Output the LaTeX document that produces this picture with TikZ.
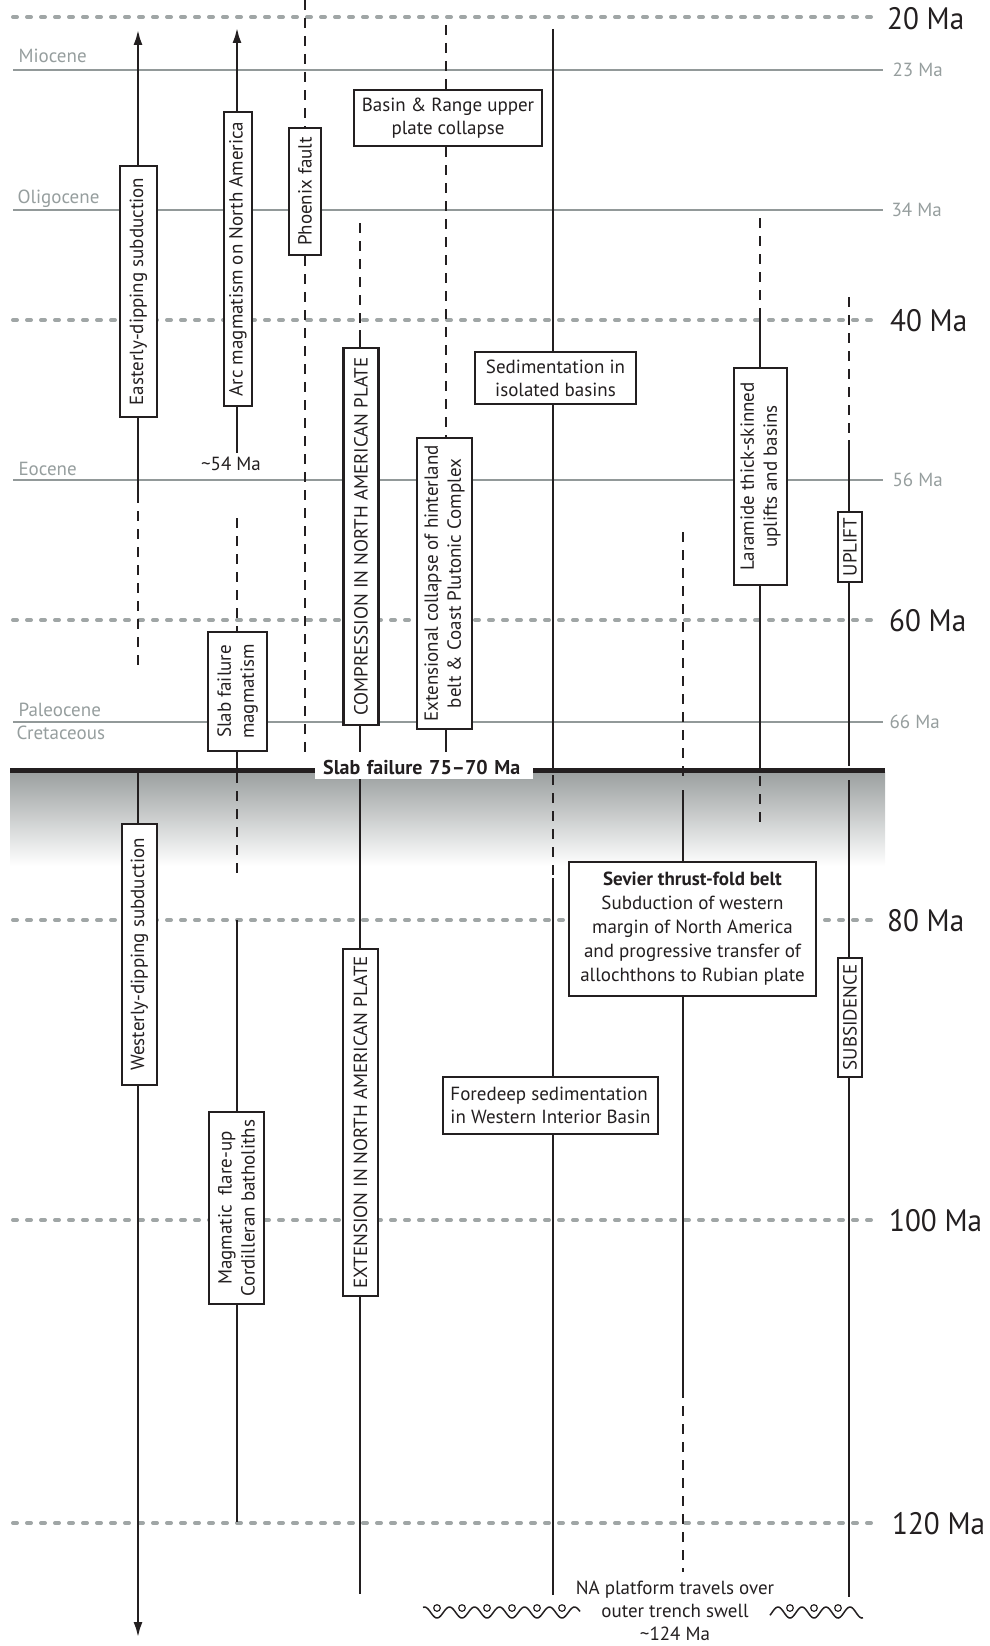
\documentclass[tikz,border=0pt]{standalone}
\usepackage{fontspec}
\setmainfont{PT Sans}
\newfontfamily\agefont[FakeStretch=0.94]{PT Sans}
\usetikzlibrary{arrows.meta}
\definecolor{ink}{RGB}{35,31,32}
\definecolor{epochc}{RGB}{146,153,153}
\definecolor{dotc}{RGB}{160,166,166}
\definecolor{lblc}{RGB}{150,158,158}
\definecolor{shadec}{RGB}{155,160,160}
\begin{document}
\begin{tikzpicture}[x=1pt,y=-1pt,
 every node/.style={font=\fontsize{19}{23}\selectfont, text=ink},
 solidl/.style={draw=ink, line width=2.9pt},
 dashl/.style={draw=ink, line width=2.4pt, dash pattern=on 10pt off 8pt},
 dotl/.style={draw=dotc, line width=4pt, dash pattern=on 4pt off 10pt, line cap=round},
 epochl/.style={draw=epochc, line width=2.8pt},
 arr/.style={-{Latex[length=16pt,width=9pt]}},
 vbox/.style 2 args={draw=ink, line width=2.3pt, fill=white, rotate=90, inner sep=0pt, align=center, minimum width=#1, minimum height=#2},
 hbox/.style 2 args={draw=ink, line width=2.3pt, fill=white, inner sep=0pt, align=center, minimum width=#1, minimum height=#2},
 epochname/.style={anchor=base west, text=lblc},
 epochage/.style={anchor=west, text=lblc},
 age/.style={anchor=west, inner xsep=0pt, font=\agefont\fontsize{31}{36}\selectfont},
]
\path[use as bounding box] (0,0) rectangle (989,1646);

% ---- age grid (dotted) ----
\foreach \yy in {17,320,620,920,1220,1523} \draw[dotl] (13,\yy) -- (880,\yy);
\node[age] (m20) at (887,19) {20 Ma};
\node[age] (m40) at (890,321) {40 Ma};
\node[age] (m60) at (889,621) {60 Ma};
\node[age] (m80) at (887,921) {80 Ma};
\node[age] (m100) at (889,1221) {100 Ma};
\node[age] (m120) at (892,1524) {120 Ma};

% ---- epoch boundaries ----
\foreach \yy in {70,210,480,722} \draw[epochl] (13,\yy) -- (883,\yy);
\node[epochage] (e23) at (889,70) {23 Ma};
\node[epochage] (e34) at (888,210) {34 Ma};
\node[epochage] (e56) at (889,480) {56 Ma};
\node[epochage] (e66) at (886,722) {66 Ma};
\node[epochname] (mio) at (15,63) {Miocene};
\node[epochname] (oli) at (14,203) {Oligocene};
\node[epochname] (eoc) at (15,475) {Eocene};
\node[epochname] (pal) at (15,716.5) {Paleocene};
\node[epochname] (cre) at (13,739) {Cretaceous};

% ---- slab failure ----
\shade[top color=shadec, bottom color=white] (10,772) rectangle (885,866);
\draw[ink, line width=5pt] (10,770) -- (885,770);
\node[fill=white, inner xsep=8pt, inner ysep=0pt, minimum height=23pt, text width=202pt, align=left, anchor=west, font=\bfseries\fontsize{20}{23}\selectfont] (slab) at (315,767.5) {Slab failure 75–70 Ma};

% ---- boxes ----
\node[vbox={251pt}{37pt}] (east) at (138.5,291.5) {Easterly-dipping subduction};
\node[vbox={294pt}{28pt}] (arc) at (238,259) {Arc magmatism on North America};
\node[vbox={127pt}{32pt}] (phx) at (305,191.5) {Phoenix fault};
\node[vbox={377pt}{35pt}] (comp) at (361,536.5) {COMPRESSION IN NORTH AMERICAN PLATE};
\node[hbox={188pt}{56pt}] (basin) at (448,118) {Basin \& Range upper\\plate collapse};
\node[vbox={291pt}{55pt}] (extc) at (444.5,583.5) {Extensional collapse of hinterland\\belt \& Coast Plutonic Complex};
\node[hbox={161pt}{52pt}] (sed) at (555.5,378) {Sedimentation in\\isolated basins};
\node[vbox={217pt}{53pt}] (lara) at (760.5,476.5) {Laramide thick-skinned\\uplifts and basins};
\node[vbox={70pt}{24pt}] (upl) at (850,547) {UPLIFT};
\node[vbox={119pt}{59pt}] (slabm) at (237.5,691.5) {Slab failure\\magmatism};
\node[vbox={261pt}{35pt}] (west) at (139.5,954.5) {Westerly-dipping subduction};
\node[vbox={192pt}{55pt}] (flare) at (236.5,1208) {Magmatic\ \ flare-up\\Cordilleran batholiths};
\node[vbox={347pt}{35pt}] (ext) at (360.5,1122.5) {EXTENSION IN NORTH AMERICAN PLATE};
\node[hbox={247pt}{134pt}, font=\fontsize{19}{24}\selectfont] (sev) at (692.5,929) {\textbf{Sevier thrust-fold belt}\\Subduction of western\\margin of North America\\and progressive transfer of\\allochthons to Rubian plate};
\node[hbox={215pt}{57pt}, align=left] (fore) at (550.5,1105.5) {Foredeep sedimentation\\in Western Interior Basin};
\node[vbox={119pt}{24pt}] (subs) at (850,1017.5) {SUBSIDENCE};
\node (n54) at (231,464) {\textasciitilde54 Ma};

% ---- column 1 ----
\coordinate (c1t) at (138,29);
\coordinate (c1a) at (138,493);
\coordinate (c1b) at (138,667);
\coordinate (c1c) at (138,772);
\coordinate (c1d) at (138,1638);
\draw[solidl,arr] (east.east -| c1t) -- (c1t);
\draw[solidl] (east.west -| c1a) -- (c1a);
\draw[dashl] (c1a) -- (c1b);
\draw[solidl] (c1c) -- (west.east -| c1c);
\draw[solidl,arr] (west.west -| c1d) -- (c1d);

% ---- column 2 ----
\coordinate (c2t) at (237,27);
\coordinate (c2a) at (237,453);
\coordinate (c2b) at (237,518);
\coordinate (c2c) at (237,770);
\coordinate (c2d) at (237,773);
\coordinate (c2e) at (237,874);
\coordinate (c2f) at (237,920);
\coordinate (c2g) at (237,1522);
\draw[solidl,arr] (arc.east -| c2t) -- (c2t);
\draw[solidl] (arc.west -| c2a) -- (c2a);
\draw[dashl] (c2b) -- (slabm.east -| c2b);
\draw[solidl] (slabm.west -| c2c) -- (c2c);
\draw[dashl] (c2d) -- (c2e);
\draw[solidl] (c2f) -- (flare.east -| c2f);
\draw[solidl] (flare.west -| c2g) -- (c2g);

% ---- column 3 ----
\coordinate (c3t) at (305,0);
\coordinate (c3b) at (305,757);
\draw[dashl] (c3t) -- (phx.east);
\draw[dashl] (phx.west) -- (c3b);

% ---- column 4 ----
\coordinate (c4a) at (360,223);
\coordinate (c4b) at (360,330);
\coordinate (c4c) at (360,752);
\coordinate (c4d) at (360,779);
\coordinate (c4e) at (360,1594);
\draw[dashl] (c4a) -- (c4b);
\draw[solidl] (c4b) -- (comp.east -| c4b);
\draw[solidl] (comp.west -| c4c) -- (c4c);
\draw[solidl] (c4d) -- (ext.east -| c4d);
\draw[solidl] (ext.west -| c4e) -- (c4e);

% ---- column 5 ----
\coordinate (c5a) at (446,25);
\coordinate (c5b) at (446,752);
\draw[dashl] (c5a) -- (basin.north -| c5a);
\draw[dashl] (basin.south -| c5a) -- (extc.east -| c5a);
\draw[solidl] (extc.west -| c5b) -- (c5b);

% ---- column 6 ----
\coordinate (c6a) at (553,29);
\coordinate (c6b) at (553,768);
\coordinate (c6c) at (553,775);
\coordinate (c6d) at (553,878);
\coordinate (c6e) at (553,1595);
\draw[solidl] (c6a) -- (sed.north -| c6a);
\draw[solidl] (sed.south -| c6b) -- (c6b);
\draw[dashl] (c6c) -- (c6d);
\draw[solidl] (c6d) -- (fore.north -| c6d);
\draw[solidl] (fore.south -| c6e) -- (c6e);

% ---- column 7 ----
\coordinate (c7a) at (683,532);
\coordinate (c7b) at (683,780);
\coordinate (c7c) at (683,790);
\coordinate (c7d) at (683,1388);
\coordinate (c7e) at (683,1572);
\draw[dashl] (c7a) -- (c7b);
\draw[solidl] (c7c) -- (sev.north -| c7c);
\draw[solidl] (sev.south -| c7d) -- (c7d);
\draw[dashl] (c7d) -- (c7e);

% ---- column 8 ----
\coordinate (c8a) at (760,218);
\coordinate (c8b) at (760,312);
\coordinate (c8c) at (760,770);
\coordinate (c8d) at (760,776);
\coordinate (c8e) at (760,827);
\draw[dashl] (c8a) -- (c8b);
\draw[solidl] (c8b) -- (lara.east -| c8b);
\draw[solidl] (lara.west -| c8c) -- (c8c);
\draw[dashl] (c8d) -- (c8e);

% ---- column 9 ----
\coordinate (c9a) at (849,297);
\coordinate (c9b) at (849,440);
\coordinate (c9c) at (849,766);
\coordinate (c9d) at (849,780);
\coordinate (c9e) at (849,1597);
\draw[dashl] (c9a) -- (c9b);
\draw[solidl] (c9b) -- (upl.east -| c9b);
\draw[solidl] (upl.west -| c9c) -- (c9c);
\draw[solidl] (c9d) -- (subs.east -| c9d);
\draw[solidl] (subs.west -| c9e) -- (c9e);

% ---- bottom: outer trench swell ----
\node[align=center] (swell) at (675,1611) {NA platform travels over\\outer trench swell\\\textasciitilde124 Ma};
\draw[ink, line width=1.5pt] plot[domain=423:580, samples=120, smooth] (\x,{1612.5+5.5*cos(14.4*(\x-437))});
\foreach \cx in {437,462,487,512,537,562} \draw[ink, line width=1.2pt] (\cx,1608) circle[radius=3.3pt];
\draw[ink, line width=1.5pt] plot[domain=770:863, samples=80, smooth] (\x,{1612.5+5.5*cos(15*(\x-790))});
\foreach \cx in {790,814,838} \draw[ink, line width=1.2pt] (\cx,1608) circle[radius=3.3pt];
\end{tikzpicture}
\end{document}
